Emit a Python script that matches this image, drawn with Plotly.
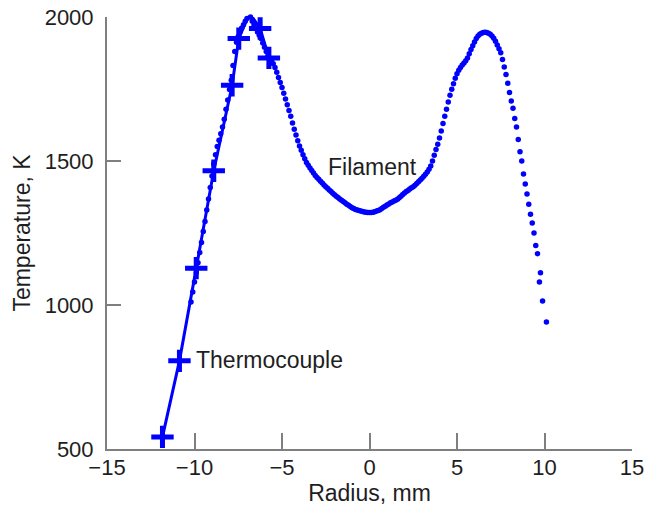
import plotly.graph_objects as go

# Filament (dense measured dots)
filament_x = [-10.2, -10.1, -10.0, -9.9, -9.8, -9.7, -9.6, -9.5, -9.4, -9.3, -9.2, -9.1,
              -9.0, -8.9, -8.8, -8.7, -8.6, -8.5, -8.4, -8.3, -8.2, -8.1, -8.0, -7.9,
              -7.8, -7.7, -7.6, -7.5, -7.4, -7.3, -7.2, -7.1, -7.0, -6.9, -6.8, -6.7,
              -6.6, -6.5, -6.4, -6.3, -6.2, -6.1, -6.0, -5.9, -5.8, -5.7, -5.6, -5.5,
              -5.4, -5.3, -5.2, -5.1, -5.0, -4.9, -4.8, -4.7, -4.6, -4.5, -4.4, -4.3,
              -4.2, -4.1, -4.0, -3.9, -3.8, -3.7, -3.6, -3.5, -3.4, -3.3, -3.2, -3.1,
              -3.0, -2.9, -2.8, -2.7, -2.6, -2.5, -2.4, -2.3, -2.2, -2.1, -2.0, -1.9,
              -1.8, -1.7, -1.6, -1.5, -1.4, -1.3, -1.2, -1.1, -1.0, -0.9, -0.8, -0.7,
              -0.6, -0.5, -0.4, -0.3, -0.2, -0.1, 0.0, 0.1, 0.2, 0.3, 0.4, 0.5,
              0.6, 0.7, 0.8, 0.9, 1.0, 1.1, 1.2, 1.3, 1.4, 1.5, 1.6, 1.7,
              1.8, 1.9, 2.0, 2.1, 2.2, 2.3, 2.4, 2.5, 2.6, 2.7, 2.8, 2.9,
              3.0, 3.1, 3.2, 3.3, 3.4, 3.5, 3.6, 3.7, 3.8, 3.9, 4.0, 4.1,
              4.2, 4.3, 4.4, 4.5, 4.6, 4.7, 4.8, 4.9, 5.0, 5.1, 5.2, 5.3,
              5.4, 5.5, 5.6, 5.7, 5.8, 5.9, 6.0, 6.1, 6.2, 6.3, 6.4, 6.5,
              6.6, 6.7, 6.8, 6.9, 7.0, 7.1, 7.2, 7.3, 7.4, 7.5, 7.6, 7.7,
              7.8, 7.9, 8.0, 8.1, 8.2, 8.3, 8.4, 8.5, 8.6, 8.7, 8.8, 8.9,
              9.0, 9.1, 9.2, 9.3, 9.4, 9.5, 9.6, 9.71, 9.77, 9.89, 10.11]
filament_t = [1010, 1045, 1080, 1113, 1147, 1182, 1217, 1255, 1290, 1330, 1368, 1408,
              1448, 1490, 1522, 1550, 1572, 1595, 1618, 1645, 1680, 1712, 1748, 1780,
              1832, 1880, 1912, 1932, 1948, 1962, 1973, 1985, 1995, 2002, 2000, 1985,
              1972, 1960, 1948, 1937, 1925, 1910, 1895, 1880, 1866, 1856, 1848, 1838,
              1825, 1808, 1790, 1773, 1755, 1735, 1715, 1695, 1675, 1655, 1632, 1610,
              1590, 1570, 1552, 1537, 1522, 1508, 1495, 1485, 1476, 1467, 1458, 1450,
              1443, 1437, 1430, 1424, 1417, 1411, 1405, 1399, 1394, 1388, 1383, 1378,
              1373, 1368, 1364, 1359, 1355, 1350, 1346, 1342, 1338, 1335, 1332, 1330,
              1328, 1326, 1325, 1323, 1322, 1321, 1321, 1321, 1322, 1324, 1326, 1328,
              1331, 1335, 1339, 1343, 1347, 1351, 1355, 1358, 1361, 1364, 1367, 1372,
              1378, 1384, 1389, 1394, 1398, 1403, 1407, 1411, 1416, 1422, 1428, 1434,
              1440, 1447, 1454, 1462, 1471, 1483, 1500, 1520, 1540, 1558, 1580, 1604,
              1630, 1655, 1680, 1705, 1728, 1749, 1768, 1787, 1803, 1815, 1825, 1833,
              1840, 1848, 1858, 1872, 1887, 1900, 1913, 1925, 1934, 1940, 1944, 1946,
              1947, 1946, 1944, 1940, 1934, 1926, 1916, 1903, 1890, 1876, 1852, 1826,
              1800, 1770, 1738, 1708, 1683, 1648, 1618, 1575, 1532, 1500, 1455, 1420,
              1385, 1350, 1315, 1285, 1250, 1207, 1178, 1080, 1112, 1014, 941]

# Thermocouple measurements
thermo_x = [-11.83, -10.86, -9.9, -8.9, -7.85, -7.47, -6.86, -6.25, -5.75]
thermo_t = [542, 806, 1128, 1466, 1763, 1925, 2014, 1960, 1858]

x_ticks = [-15, -10, -5, 0, 5, 10, 15]
y_ticks = [500, 1000, 1500, 2000]

BLUE = "#0000ff"
AXIS = "#7f7f7f"
TEXT = "#1e1e1e"
FONT = "Liberation Sans, Arial, Helvetica, sans-serif"

fig = go.Figure()
fig.add_trace(go.Scatter(
    x=filament_x, y=filament_t, mode="markers", name="Filament",
    marker=dict(size=5.5, color=BLUE, line=dict(width=0)),
    cliponaxis=False, showlegend=False))
fig.add_trace(go.Scatter(
    x=thermo_x, y=thermo_t, mode="lines+markers", name="Thermocouple",
    line=dict(color=BLUE, width=3),
    marker=dict(symbol="cross-thin", size=16, color=BLUE,
                line=dict(color=BLUE, width=5)),
    cliponaxis=False, showlegend=False))

fig.add_annotation(x=0.17, y=1480, text="Filament", showarrow=False,
                   xanchor="center", yanchor="middle",
                   font=dict(family=FONT, size=23, color=TEXT))
fig.add_annotation(x=-5.71, y=809, text="Thermocouple", showarrow=False,
                   xanchor="center", yanchor="middle",
                   font=dict(family=FONT, size=23, color=TEXT))

fig.update_layout(
    width=647, height=507,
    margin=dict(l=107, r=15, t=17, b=58, autoexpand=False),
    paper_bgcolor="white", plot_bgcolor="white",
    font=dict(family=FONT, size=22, color=TEXT),
    xaxis=dict(range=[-15, 15], tickvals=x_ticks, ticks="inside", ticklen=16,
               tickwidth=2, tickcolor=AXIS, showline=True, linecolor=AXIS,
               linewidth=2, showgrid=False, zeroline=False, mirror=False,
               ticklabelstandoff=-2,
               title=dict(text="Radius, mm", standoff=5,
                          font=dict(family=FONT, size=23, color=TEXT))),
    yaxis=dict(range=[500, 2000], tickvals=y_ticks, ticks="inside", ticklen=14,
               tickwidth=2, tickcolor=AXIS, showline=True, linecolor=AXIS,
               linewidth=2, showgrid=False, zeroline=False, mirror=False,
               ticklabelstandoff=7,
               title=dict(text="Temperature, K", standoff=8,
                          font=dict(family=FONT, size=23, color=TEXT))),
)

# remove the default page margin so the figure fills the window exactly
fig.write_html("out.html",
               config={"displayModeBar": False},
               post_script="document.body.style.margin='0px';"
                           "document.body.style.overflow='hidden';")
